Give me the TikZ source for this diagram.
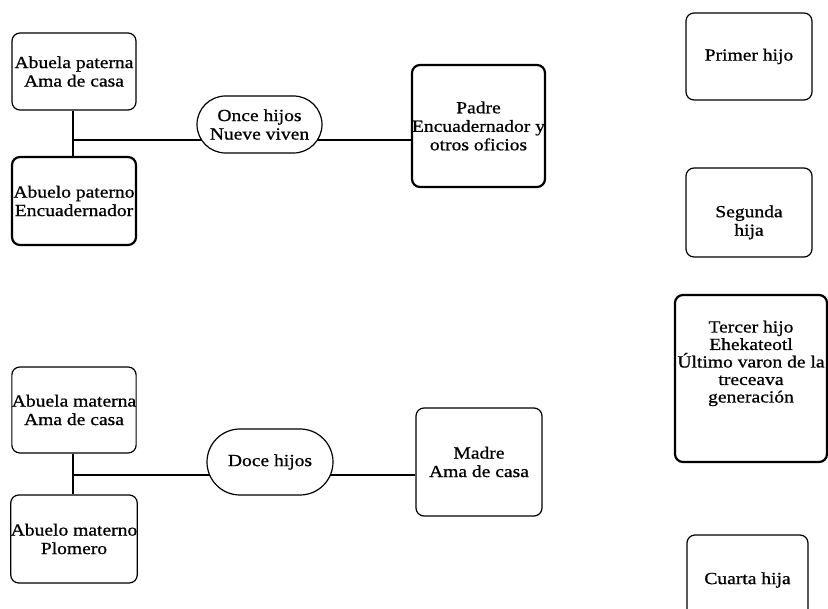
\documentclass[tikz,border=0pt]{standalone}
\usepackage{fontspec}
\setmainfont{Liberation Serif}[FakeStretch=1.15, FakeBold=0.8]
\usepackage{tikz}
\usetikzlibrary{shapes, backgrounds}
\usetikzlibrary{positioning}

\begin{document}
\begin{tikzpicture}[x=1pt, y=-1pt,
    caja/.style={draw, rounded corners=8pt, fill=white, align=center,
        inner sep=0pt, line width=1.2pt, font=\fontsize{17}{18.5}\selectfont},
    gruesa/.style={line width=2.2pt},
    hijos/.style={draw, rounded rectangle, fill=white, align=center,
        inner sep=0pt, line width=1.2pt, font=\fontsize{17}{18.5}\selectfont},
    linea/.style={line width=1.2pt}]
    \useasboundingbox (0,0) rectangle (828,609);
    % familia del padre
    \node[caja, minimum width=124, minimum height=77] (abuela-p) at (74,71.5)
        {Abuela paterna\\Ama de casa};
    \node[caja, gruesa, minimum width=124, minimum height=88] (abuelo-p) at (74,201)
        {Abuelo paterno\\Encuadernador};
    \node[hijos, minimum width=125, minimum height=57] (once) at (259.5,124.5)
        {Once hijos\\Nueve viven};
    \node[caja, gruesa, minimum width=127, minimum height=122] (padre) at (478.5,126)
        {Padre\\Encuadernador y\\otros oficios};
    % familia de la madre
    \node[caja, minimum width=124, minimum height=86] (abuela-m) at (74,410)
        {Abuela materna\\Ama de casa};
    \node[caja, minimum width=124, minimum height=88] (abuelo-m) at (74,539)
        {Abuelo materno\\Plomero};
    \node[hijos, minimum width=126, minimum height=66] (doce) at (270,462)
        {Doce hijos};
    \node[caja, minimum width=126, minimum height=108] (madre) at (479,462)
        {Madre\\Ama de casa};
    % hijos
    \node[caja, minimum width=126, minimum height=87] (h-1) at (749,56.5)
        {Primer hijo};
    \node[caja, minimum width=126, minimum height=89, text height=50.5pt,
        text depth=4pt] (h-2) at (749,212.5)
        {Segunda\\hija};
    \node[caja, gruesa, minimum width=152, minimum height=167,
        font=\fontsize{17}{17.5}\selectfont, text height=82pt,
        text depth=34pt] (h-3) at (751,378.5)
        {Tercer hijo\\Ehekateotl\\Último varon de la\\treceava\\generación};
    \node[caja, minimum width=121, minimum height=90] (h-4) at (747.5,580)
        {Cuarta hija};

    \coordinate (u-p) at (73,140);
    \coordinate (u-m) at (73,475);
    \begin{scope}[on background layer]
    \draw[linea] (abuela-p.south -| u-p) -- (abuelo-p.north -| u-p);
    \draw[linea] (u-p) -- (once.center |- u-p) -- (padre.west |- u-p);
    \draw[linea] (abuela-m.south -| u-m) -- (abuelo-m.north -| u-m);
    \draw[linea] (u-m) -- (doce.center |- u-m) -- (madre.west |- u-m);
    \end{scope}
\end{tikzpicture}
\end{document}
